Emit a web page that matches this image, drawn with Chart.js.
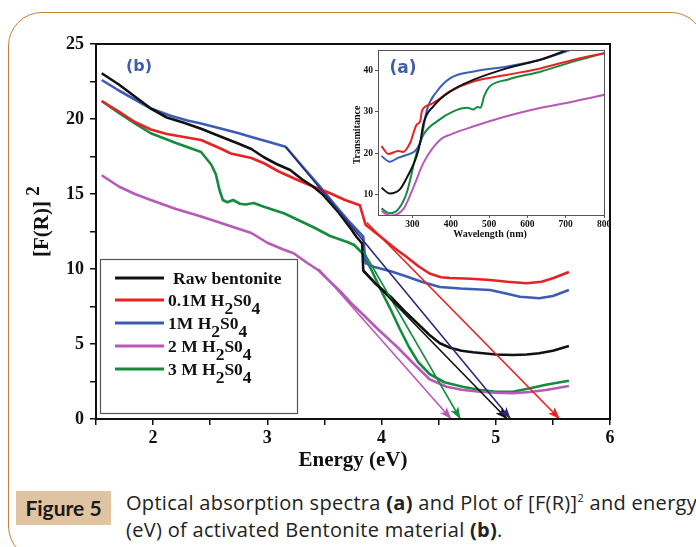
<!DOCTYPE html>
<html lang="en">
<head>
  <meta charset="UTF-8" />
  <title>Optical absorption and [F(R)]2 plot</title>
  <script src="https://cdn.jsdelivr.net/npm/chart.js"></script>
  <style>
    body {
      margin: 0;
      background: #fff;
      width: 696px;
      height: 547px;
      overflow: hidden;
      position: relative;
    }
    .frame {
      position: absolute;
      left: 8px;
      top: 12px;
      width: 697px;
      height: 548px;
      border: 1.5px solid #c47f35;
      border-radius: 34px;
      box-sizing: border-box;
    }
    #main, #inset {
      position: absolute;
    }
    #main { left: 0; top: 0; }
    #inset { left: 340px; top: 40px; }
    .fig-tag {
      position: absolute;
      left: 16px;
      top: 491px;
      width: 95px;
      height: 34px;
      background: #e0c3a0;
      font-family: Lato, sans-serif;
      font-weight: bold;
      font-size: 21px;
      line-height: 34px;
      text-align: center;
      color: #1a1a1a;
    }
    .caption {
      position: absolute;
      left: 126px;
      top: 489px;
      width: 640px;
      font-family: "Open Sans", sans-serif;
      font-size: 20px;
      letter-spacing: 0.3px;
      line-height: 27px;
      color: #222;
      white-space: nowrap;
    }
    .caption sup { font-size: 11px; vertical-align: 8px; line-height: 0; }
  </style>
</head>
<body>
  <div class="frame"></div>
  <canvas id="main" width="696" height="480"></canvas>
  <canvas id="inset" width="280" height="210"></canvas>
  <div class="fig-tag">Figure 5</div>
  <div class="caption">Optical absorption spectra <b>(a)</b> and Plot of [F(R)]<sup>2</sup> and energy<br>(eV) of activated Bentonite material <b>(b)</b>.</div>

  <script>
    // ---- (b) [F(R)]^2 vs energy ----
    const seriesNames = ["Raw bentonite", "0.1M H2S04", "1M H2S04", "2 M H2S04", "3 M H2S04"];
    const seriesColors = ["#111111", "#e82222", "#3d5db5", "#b75ab7", "#168a3e"];
    const tangentColors = ["#111111", "#e82222", "#2a2a7c", "#b75ab7", "#168a3e"];

    const energyTicks = [1.5, 2, 2.5, 3, 3.5, 4, 4.5, 5, 5.5, 6];
    const frTicks = [0, 2.5, 5, 7.5, 10, 12.5, 15, 17.5, 20, 22.5, 25];

    const rawX = [1.55, 1.7, 1.84, 1.98, 2.12, 2.27, 2.42, 2.6, 2.75, 2.86, 2.97, 3.08, 3.2, 3.3, 3.4, 3.48, 3.55, 3.62, 3.67, 3.73, 3.78, 3.83, 3.84, 3.95, 4.08, 4.2, 4.31, 4.42, 4.51, 4.6, 4.7, 4.8, 4.89, 5.0, 5.15, 5.27, 5.38, 5.5, 5.64];
    const rawY = [23.05, 22.3, 21.5, 20.7, 20.1, 19.75, 19.35, 18.8, 18.35, 18.0, 17.45, 17.0, 16.6, 16.0, 15.5, 15.0, 14.4, 13.8, 13.3, 12.7, 12.15, 11.7, 9.9, 9.0, 8.15, 7.2, 6.4, 5.6, 5.05, 4.75, 4.55, 4.45, 4.38, 4.3, 4.27, 4.3, 4.38, 4.55, 4.87];

    const m01X = [1.55, 1.7, 1.84, 1.98, 2.12, 2.27, 2.42, 2.6, 2.68, 2.86, 2.97, 3.1, 3.26, 3.4, 3.55, 3.68, 3.81, 3.86, 4.0, 4.13, 4.22, 4.32, 4.42, 4.52, 4.6, 4.78, 4.95, 5.1, 5.27, 5.4, 5.5, 5.64];
    const m01Y = [21.2, 20.5, 19.8, 19.3, 19.0, 18.8, 18.6, 18.0, 17.7, 17.4, 17.05, 16.5, 15.95, 15.5, 15.05, 14.6, 14.25, 12.95, 12.1, 11.3, 10.8, 10.2, 9.7, 9.45, 9.4, 9.35, 9.27, 9.15, 9.05, 9.15, 9.38, 9.8];

    const m1X = [1.55, 1.7, 1.84, 1.98, 2.16, 2.3, 2.42, 2.6, 2.75, 2.86, 3.0, 3.16, 3.3, 3.45, 3.6, 3.73, 3.84, 3.86, 3.93, 4.08, 4.22, 4.35, 4.51, 4.69, 4.82, 4.95, 5.1, 5.21, 5.3, 5.38, 5.5, 5.64];
    const m1Y = [22.6, 21.9, 21.3, 20.7, 20.2, 19.9, 19.7, 19.35, 19.05, 18.8, 18.5, 18.15, 16.9, 15.6, 14.2, 13.05, 12.15, 10.4, 10.15, 9.85, 9.5, 9.15, 8.8, 8.7, 8.65, 8.6, 8.35, 8.15, 8.1, 8.05, 8.2, 8.6];

    const m2X = [1.55, 1.7, 1.84, 1.98, 2.2, 2.42, 2.6, 2.86, 3.0, 3.14, 3.23, 3.35, 3.45, 3.55, 3.64, 3.73, 3.84, 3.98, 4.13, 4.28, 4.42, 4.57, 4.7, 4.86, 5.0, 5.15, 5.3, 5.44, 5.64];
    const m2Y = [16.25, 15.5, 15.0, 14.6, 14.0, 13.5, 13.05, 12.4, 11.75, 11.3, 11.05, 10.4, 9.9, 9.15, 8.5, 7.75, 6.95, 5.9, 4.85, 3.7, 2.65, 2.15, 1.95, 1.82, 1.75, 1.72, 1.8, 1.93, 2.2];

    const m3X = [1.55, 1.7, 1.84, 1.98, 2.2, 2.42, 2.51, 2.55, 2.58, 2.61, 2.65, 2.7, 2.76, 2.81, 2.88, 2.97, 3.15, 3.26, 3.4, 3.55, 3.7, 3.76, 3.84, 3.92, 4.0, 4.08, 4.16, 4.24, 4.32, 4.42, 4.55, 4.71, 4.85, 5.0, 5.15, 5.3, 5.45, 5.64];
    const m3Y = [21.2, 20.4, 19.7, 19.05, 18.4, 17.8, 16.95, 16.3, 15.3, 14.6, 14.45, 14.6, 14.35, 14.3, 14.4, 14.15, 13.7, 13.3, 12.8, 12.2, 11.8, 11.6, 11.0, 9.8, 8.5, 7.3, 6.0, 4.8, 3.8, 3.0, 2.45, 2.15, 1.95, 1.82, 1.82, 2.05, 2.3, 2.55];

    // band-gap extrapolation lines [start, end] per sample
    const tangentX = [[3.84, 5.1], [3.87, 5.56], [3.16, 5.13], [3.45, 4.61], [3.84, 4.69]];
    const tangentY = [[9.85, 0], [13.1, 0], [18.15, 0], [10.0, 0], [11.2, 0]];

    // ---- (a) transmittance vs wavelength ----
    const waveTicks = [300, 400, 500, 600, 700, 800];
    const transTicks = [10, 20, 30, 40];

    const tRawX = [219, 241, 267, 285, 311, 320, 329, 355, 399, 460, 548, 636, 706, 730];
    const tRawY = [11.6, 10.2, 11.2, 14.0, 19.3, 22.5, 27.3, 31.4, 35.0, 37.8, 40.6, 42.7, 45.1, 46.0];
    const t01X = [219, 237, 263, 276, 294, 311, 320, 325, 347, 399, 460, 548, 636, 724, 804];
    const t01Y = [21.7, 19.8, 20.5, 20.3, 22.5, 26.9, 27.7, 30.3, 31.8, 35.0, 37.4, 39.0, 40.6, 42.7, 44.3];
    const t1X = [219, 241, 263, 276, 320, 338, 364, 399, 460, 548, 636, 715, 740];
    const t1Y = [19.3, 17.9, 18.9, 19.3, 22.5, 30.6, 35.0, 38.2, 39.8, 41.0, 42.7, 45.1, 46.0];
    const t2X = [219, 241, 276, 302, 329, 373, 399, 460, 548, 636, 724, 804];
    const t2Y = [6.0, 4.8, 6.4, 11.6, 17.7, 23.3, 24.5, 26.5, 29.0, 31.0, 32.6, 34.2];
    const t3X = [219, 241, 263, 285, 311, 329, 364, 408, 443, 460, 469, 478, 487, 500, 548, 636, 724, 804];
    const t3Y = [6.6, 5.4, 6.4, 10.4, 20.1, 24.5, 27.7, 30.2, 31.0, 30.6, 31.2, 31.0, 33.8, 36.0, 37.8, 39.8, 42.3, 44.3];

    const serif = "'Liberation Serif', 'Times New Roman', serif";
    const ink = "#111";

    function pts(xs, ys) {
      return xs.map((x, i) => ({ x: x, y: ys[i] }));
    }

    // draws "H2S04" with lowered digits
    function drawLabel(ctx, text, x, y) {
      const parts = [];
      const m = text.split("H2S04");
      parts.push({ t: m[0] });
      if (m.length > 1) {
        parts.push({ t: "H" }, { t: "2", sub: true }, { t: "S0" }, { t: "4", sub: true });
      }
      let cx = x;
      parts.forEach(p => {
        ctx.fillText(p.t, cx, p.sub ? y + 8 : y);
        cx += ctx.measureText(p.t).width;
      });
    }

    const curveSets = [[rawX, rawY], [m01X, m01Y], [m1X, m1Y], [m2X, m2Y], [m3X, m3Y]];

    const datasets = [];
    tangentX.forEach((tx, i) => {
      datasets.push({
        label: "fit " + seriesNames[i],
        data: pts(tx, tangentY[i]),
        borderColor: tangentColors[i],
        borderWidth: 1.6,
        isTangent: true
      });
    });
    curveSets.forEach((s, i) => {
      datasets.push({
        label: seriesNames[i],
        data: pts(s[0], s[1]),
        borderColor: seriesColors[i],
        borderWidth: 2.6,
        borderJoinStyle: "round"
      });
    });

    const mainDecor = {
      id: "mainDecor",
      afterDatasetsDraw(chart) {
        const ctx = chart.ctx;
        const xs = chart.scales.x, ys = chart.scales.y;
        // arrow heads at the axis intercepts
        chart.data.datasets.forEach(ds => {
          if (!ds.isTangent) return;
          const a = ds.data[0], b = ds.data[1];
          const x0 = xs.getPixelForValue(a.x), y0 = ys.getPixelForValue(a.y);
          const x1 = xs.getPixelForValue(b.x), y1 = ys.getPixelForValue(b.y);
          const ang = Math.atan2(y1 - y0, x1 - x0);
          ctx.save();
          ctx.translate(x1, y1);
          ctx.rotate(ang);
          ctx.fillStyle = ds.borderColor;
          ctx.beginPath();
          ctx.moveTo(0, 0);
          ctx.lineTo(-12, -4.5);
          ctx.lineTo(-9, 0);
          ctx.lineTo(-12, 4.5);
          ctx.closePath();
          ctx.fill();
          ctx.restore();
        });
      },
      afterDraw(chart) {
        const ctx = chart.ctx;
        const a = chart.chartArea;
        ctx.save();
        ctx.strokeStyle = ink;
        ctx.lineWidth = 2;
        ctx.strokeRect(a.left, a.top, a.right - a.left, a.bottom - a.top);

        // legend
        ctx.fillStyle = "#fff";
        ctx.fillRect(100, 259, 197, 154);
        ctx.strokeStyle = "#555";
        ctx.lineWidth = 1.2;
        ctx.strokeRect(100.5, 259.5, 197, 154);
        const rowY = [278, 300, 323, 346, 369];
        ctx.font = "bold 17.5px " + serif;
        ctx.textBaseline = "middle";
        ctx.textAlign = "left";
        seriesNames.forEach((name, i) => {
          ctx.strokeStyle = seriesColors[i];
          ctx.lineWidth = 3;
          ctx.beginPath();
          ctx.moveTo(115, rowY[i]);
          ctx.lineTo(164, rowY[i]);
          ctx.stroke();
          ctx.fillStyle = ink;
          drawLabel(ctx, name, i === 0 ? 173 : 168, rowY[i] + 1);
        });

        // axis titles
        ctx.fillStyle = ink;
        ctx.font = "bold 21px " + serif;
        ctx.textAlign = "center";
        ctx.fillText("Energy (eV)", 353, 461);

        ctx.save();
        ctx.translate(43, 229);
        ctx.rotate(-Math.PI / 2);
        ctx.font = "bold 21px " + serif;
        ctx.fillText("[F(R)]", 0, 0);
        const w = ctx.measureText("[F(R)]").width;
        ctx.font = "bold 19px " + serif;
        ctx.fillText("2", w / 2 + 10, -9);
        ctx.restore();

        ctx.font = "bold 16px 'DejaVu Sans', sans-serif";
        ctx.fillStyle = "#3f5fae";
        ctx.fillText("(b)", 139, 67);
        ctx.restore();
      }
    };

    new Chart(document.getElementById("main"), {
      type: "line",
      data: { datasets: datasets },
      options: {
        responsive: false,
        animation: false,
        parsing: false,
        layout: { padding: { left: 0, top: 44, right: 86, bottom: 9 } },
        elements: { point: { radius: 0 }, line: { tension: 0 } },
        plugins: { legend: { display: false }, tooltip: { enabled: false } },
        scales: {
          x: {
            type: "linear",
            min: 1.5,
            max: 6,
            afterFit: s => { s.height = 52; },
            afterBuildTicks: s => { s.ticks = energyTicks.map(v => ({ value: v })); },
            ticks: {
              autoSkip: false,
              maxRotation: 0,
              padding: 3,
              color: ink,
              font: { family: serif, size: 18, weight: "bold" },
              callback: v => (Number.isInteger(v) ? v : "")
            },
            grid: { drawOnChartArea: false, tickLength: 6, color: ink, lineWidth: 1.5 },
            border: { color: ink, width: 2 }
          },
          y: {
            min: 0,
            max: 25,
            afterFit: s => { s.width = 96; },
            afterBuildTicks: s => { s.ticks = frTicks.map(v => ({ value: v })); },
            ticks: {
              autoSkip: false,
              padding: 6,
              color: ink,
              font: { family: serif, size: 18, weight: "bold" },
              callback: v => (v % 5 === 0 ? v : "")
            },
            grid: { drawOnChartArea: false, tickLength: 6, color: ink, lineWidth: 1.5 },
            border: { color: ink, width: 2 }
          }
        }
      },
      plugins: [mainDecor]
    });

    // ---- inset ----
    const insetSets = [[tRawX, tRawY], [t01X, t01Y], [t1X, t1Y], [t2X, t2Y], [t3X, t3Y]];

    const insetDecor = {
      id: "insetDecor",
      afterDraw(chart) {
        const ctx = chart.ctx;
        const a = chart.chartArea;
        ctx.save();
        ctx.strokeStyle = "#555";
        ctx.lineWidth = 1;
        ctx.strokeRect(a.left + 0.5, a.top + 0.5, a.right - a.left, a.bottom - a.top);
        ctx.fillStyle = ink;
        ctx.textAlign = "center";
        ctx.textBaseline = "middle";
        ctx.font = "bold 10px " + serif;
        ctx.fillText("Wavelength (nm)", 150, 194);
        ctx.save();
        ctx.translate(17, 95);
        ctx.rotate(-Math.PI / 2);
        ctx.fillText("Transmitance", 0, 0);
        ctx.restore();
        ctx.font = "bold 17px 'DejaVu Sans', sans-serif";
        ctx.fillStyle = "#3f5fae";
        ctx.fillText("(a)", 63, 29);
        ctx.restore();
      }
    };

    new Chart(document.getElementById("inset"), {
      type: "line",
      data: {
        datasets: insetSets.map((s, i) => ({
          label: seriesNames[i],
          data: pts(s[0], s[1]),
          borderColor: seriesColors[i],
          borderWidth: 2,
          cubicInterpolationMode: "monotone"
        }))
      },
      options: {
        responsive: false,
        animation: false,
        parsing: false,
        layout: { padding: { left: 0, top: 10, right: 16, bottom: 0 } },
        elements: { point: { radius: 0 }, line: { tension: 0 } },
        plugins: { legend: { display: false }, tooltip: { enabled: false } },
        scales: {
          x: {
            type: "linear",
            min: 210,
            max: 800,
            afterFit: s => { s.height = 35; },
            afterBuildTicks: s => { s.ticks = waveTicks.map(v => ({ value: v })); },
            ticks: {
              autoSkip: false,
              maxRotation: 0,
              padding: 1,
              color: ink,
              font: { family: serif, size: 9.5, weight: "bold" }
            },
            grid: { drawOnChartArea: false, tickLength: 3, color: "#555", lineWidth: 1 },
            border: { color: "#555", width: 1 }
          },
          y: {
            min: 5,
            max: 45,
            afterFit: s => { s.width = 38; },
            afterBuildTicks: s => { s.ticks = transTicks.map(v => ({ value: v })); },
            ticks: {
              autoSkip: false,
              padding: 2,
              color: ink,
              font: { family: serif, size: 9.5, weight: "bold" }
            },
            grid: { drawOnChartArea: false, tickLength: 3, color: "#555", lineWidth: 1 },
            border: { color: "#555", width: 1 }
          }
        }
      },
      plugins: [insetDecor]
    });
  </script>
</body>
</html>
